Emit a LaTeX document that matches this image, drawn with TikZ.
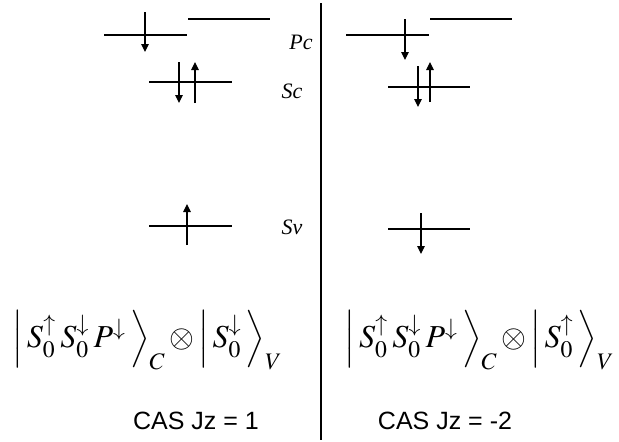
\documentclass[tikz,border=0pt]{standalone}
\usepackage{mathptmx}
\usepackage[no-math]{fontspec}
\setmainfont{Liberation Serif}
\newfontfamily\arialfont{Liberation Sans}
\usetikzlibrary{arrows.meta}

\begin{document}
\begin{tikzpicture}[x=1pt, y=-1pt,
    orbital/.style={line width=2pt},
    spin/.style={line width=1.2pt, -{Triangle[width=7.5pt,length=8pt]}},
    tag/.style={font=\itshape\fontsize{22}{26}\selectfont},
    cas/.style={font=\arialfont\fontsize{25}{30}\selectfont},
    ket/.style={scale=3.2, inner sep=0pt}]
\useasboundingbox (0,0) rectangle (619,442);

% --- divider ---
\draw[line width=1.1pt] (321,3) -- (321,440);

% --- Left: CAS Jz = 1 ---
% Pc levels
\draw[orbital] (104,35) -- (187,35);
\draw[orbital] (188,19) -- (270,19);
\draw[spin] (145,12) -- (145,52); % down
% Sc level
\draw[orbital] (149,82) -- (232,82);
\draw[spin] (179,62) -- (179,103); % down
\draw[spin] (195,103) -- (195,62); % up
% Sv level
\draw[orbital] (149,226) -- (232,226);
\draw[spin] (187,245) -- (187,204); % up

% level names
\node[tag] (pc) at (301,42) {Pc};
\node[tag] (sc) at (292,91) {Sc};
\node[tag] (sv) at (292,227) {Sv};

% --- Right: CAS Jz = -2 ---
% Pc levels
\draw[orbital] (346,35) -- (429,35);
\draw[orbital] (430,19) -- (512,19);
\draw[spin] (405,19) -- (405,60); % down
% Sc level
\draw[orbital] (388,87) -- (470,87);
\draw[spin] (418,66) -- (418,107); % down
\draw[spin] (430,102) -- (430,62); % up
% Sv level
\draw[orbital] (388,229) -- (470,229);
\draw[spin] (421,213) -- (421,254); % down

% --- states ---
\node[ket] (ket-left) at (148,340)
  {$\Bigl|\,S_0^{\uparrow}\,S_0^{\downarrow}\,P^{\downarrow}\,\Bigr\rangle_{C}\,{\otimes}\,\Bigl|\,S_0^{\downarrow}\,\Bigr\rangle_{V}$};
\node[ket] (ket-right) at (480,340)
  {$\Bigl|\,S_0^{\uparrow}\,S_0^{\downarrow}\,P^{\downarrow}\,\Bigr\rangle_{C}\,{\otimes}\,\Bigl|\,S_0^{\uparrow}\,\Bigr\rangle_{V}$};

\node[cas] (cas-left) at (196,421) {CAS Jz = 1};
\node[cas] (cas-right) at (445,421) {CAS Jz = -2};

\end{tikzpicture}
\end{document}
